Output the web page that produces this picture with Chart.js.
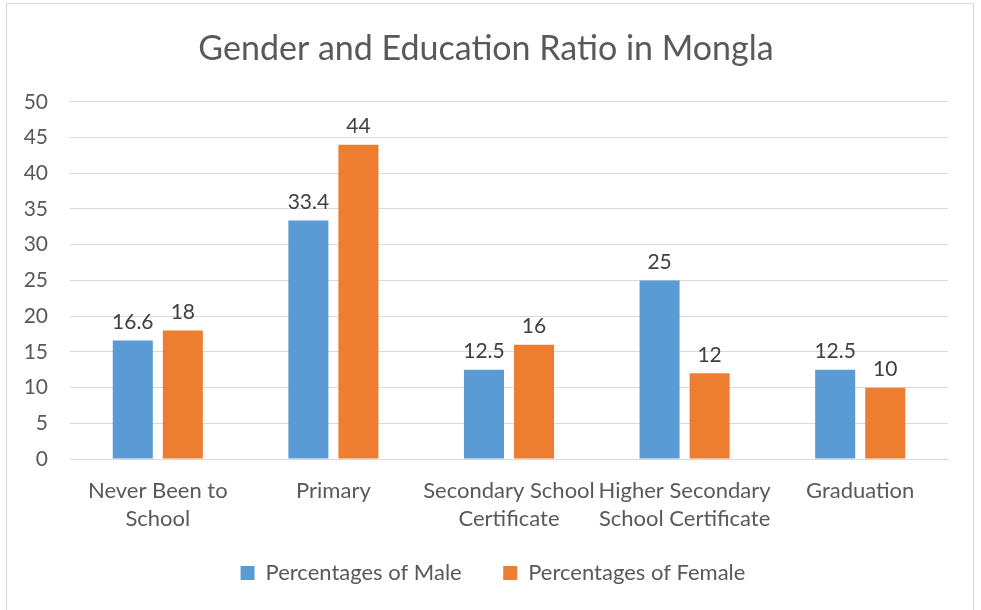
<!DOCTYPE html>
<html>
<head>
    <title>Gender and Education Ratio in Mongla</title>
    <script src="https://cdn.jsdelivr.net/npm/chart.js"></script>
    <style>
        body { margin: 0; background: #fff; }
        #box {
            position: absolute; left: 6px; top: 3px;
            width: 968px; height: 610px;
            border: 1px solid #d9d9d9; box-sizing: border-box;
        }
    </style>
</head>
<body>
    <div id="box"><canvas id="myChart" width="966" height="607"></canvas></div>
    <script>
        const categories = [
            ['Never Been to', 'School'],
            'Primary',
            ['Secondary School', 'Certificate'],
            ['Higher Secondary', 'School Certificate'],
            'Graduation'
        ];
        const maleValues = [16.6, 33.4, 12.5, 25, 12.5];
        const femaleValues = [18, 44, 16, 12, 10];
        const yTicks = { min: 0, max: 50, step: 5 };

        const fontFamily = 'Lato, "Open Sans", sans-serif';
        const textColor = '#595959';

        // draw the value above each bar
        const valueLabels = {
            id: 'valueLabels',
            afterDatasetsDraw(chart) {
                const ctx = chart.ctx;
                ctx.save();
                ctx.font = '21px ' + fontFamily;
                ctx.fillStyle = '#404040';
                ctx.textAlign = 'center';
                ctx.textBaseline = 'bottom';
                chart.data.datasets.forEach((ds, i) => {
                    chart.getDatasetMeta(i).data.forEach((bar, j) => {
                        ctx.fillText(ds.data[j], bar.x, bar.y - 8);
                    });
                });
                ctx.restore();
            }
        };

        // legend sits a little right of the canvas centre
        const legendShift = {
            id: 'legendShift',
            afterLayout(chart) {
                chart.legend.left += 7;
                chart.legend.right += 7;
            }
        };

        const ctx = document.getElementById('myChart').getContext('2d');
        new Chart(ctx, {
            type: 'bar',
            data: {
                labels: categories,
                datasets: [
                    {
                        label: 'Percentages of Male',
                        data: maleValues,
                        backgroundColor: '#5b9bd5',
                        barPercentage: 0.8,
                        categoryPercentage: 0.57
                    },
                    {
                        label: 'Percentages of Female',
                        data: femaleValues,
                        backgroundColor: '#ed7d31',
                        barPercentage: 0.8,
                        categoryPercentage: 0.57
                    }
                ]
            },
            options: {
                responsive: false,
                animation: false,
                layout: { padding: { left: 17, right: 25, top: 10, bottom: 17 } },
                plugins: {
                    title: {
                        display: true,
                        text: 'Gender and Education Ratio in Mongla',
                        color: textColor,
                        font: { family: fontFamily, size: 34, weight: 'normal' },
                        padding: { top: 15, bottom: 32 }
                    },
                    legend: {
                        position: 'bottom',
                        labels: {
                            color: textColor,
                            font: { family: fontFamily, size: 22 },
                            boxWidth: 14,
                            boxHeight: 14,
                            padding: 19,
                            // wider gap between the two legend entries
                            generateLabels(chart) {
                                const items = Chart.defaults.plugins.legend.labels.generateLabels(chart);
                                items[0].text += '    ';
                                return items;
                            }
                        }
                    },
                    tooltip: { enabled: false }
                },
                scales: {
                    x: {
                        grid: { display: false },
                        border: { color: '#d9d9d9' },
                        ticks: {
                            color: textColor,
                            font: { family: fontFamily, size: 22, lineHeight: 1.27 },
                            maxRotation: 0,
                            autoSkip: false,
                            padding: 10
                        }
                    },
                    y: {
                        min: yTicks.min,
                        max: yTicks.max,
                        afterFit(scale) { scale.width = 46; },
                        grid: { color: '#d9d9d9', drawTicks: false },
                        border: { display: false },
                        ticks: {
                            stepSize: yTicks.step,
                            color: textColor,
                            font: { family: fontFamily, size: 21 },
                            padding: 22
                        }
                    }
                }
            },
            plugins: [valueLabels, legendShift]
        });
    </script>
</body>
</html>
